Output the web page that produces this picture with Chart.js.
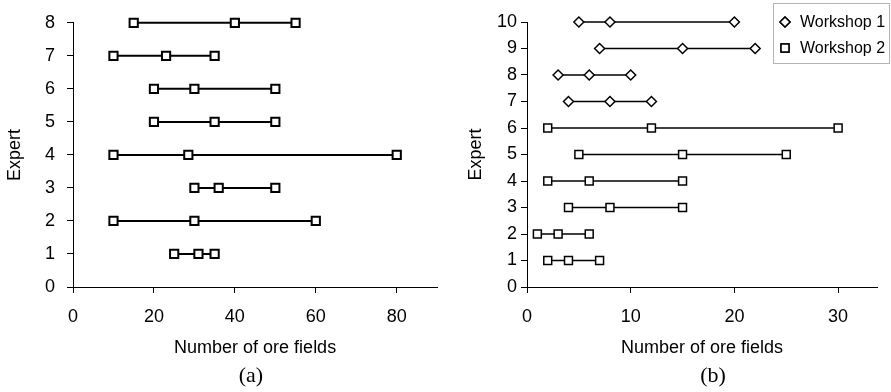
<!DOCTYPE html>
<html>
<head>
<meta charset="utf-8">
<script src="https://cdn.jsdelivr.net/npm/chart.js@4.4.1/dist/chart.umd.min.js"></script>
<style>
  body { margin: 0; background: #fff; width: 891px; height: 392px; position: relative; overflow: hidden; }
  #wrapA { position: absolute; left: 0; top: 0; width: 445px; height: 392px; }
  #wrapB { position: absolute; left: 445px; top: 0; width: 446px; height: 392px; }
  .cap { position: absolute; top: 364px; font: 22px "Liberation Serif", serif; line-height: 22px; color: #000; width: 60px; text-align: center; }
</style>
</head>
<body>
<div id="wrapA"><canvas id="chartA"></canvas></div>
<div id="wrapB"><canvas id="chartB"></canvas></div>
<div class="cap" style="left:221px">(a)</div>
<div class="cap" style="left:683px">(b)</div>
<script>
// (a) experts 1..8: min, most likely, max
const expertsA = [1, 2, 3, 4, 5, 6, 7, 8];
const minA  = [25, 10, 30, 10, 20, 20, 10, 15];
const midA  = [31, 30, 36, 28.5, 35, 30, 23, 40];
const maxA  = [35, 60, 50, 80, 50, 50, 35, 55];
const xTicksA = [0, 20, 40, 60, 80];

// (b) experts 1..10, workshop per expert
const expertsB  = [1, 2, 3, 4, 5, 6, 7, 8, 9, 10];
const workshopB = [2, 2, 2, 2, 2, 2, 1, 1, 1, 1];
const minB = [2, 1, 4, 2, 5, 2, 4, 3, 7, 5];
const midB = [4, 3, 8, 6, 15, 12, 8, 6, 15, 8];
const maxB = [7, 6, 15, 15, 25, 30, 12, 10, 22, 20];
const xTicksB = [0, 10, 20, 30];
const workshopLabels = ['Workshop 1', 'Workshop 2'];

const font = 'Liberation Sans, Arial, sans-serif';
Chart.defaults.font.family = font;
Chart.defaults.color = '#000';

function rows(experts, mins, mids, maxs, style) {
  return experts.map((e, i) => {
    const st = style(i);
    return {
      label: st.label,
      data: [{x: mins[i], y: e}, {x: mids[i], y: e}, {x: maxs[i], y: e}],
      showLine: true,
      clip: false,
      borderColor: '#000',
      borderWidth: st.lw,
      pointStyle: st.shape,
      pointRadius: st.r,
      pointBorderWidth: st.pw,
      pointBorderColor: '#000',
      pointBackgroundColor: '#fff'
    };
  });
}

function axes(xmax, xticks, ymax, yTitlePad, yWidth, yTickPad) {
  return {
    x: {
      type: 'linear', min: 0, max: xmax,
      afterBuildTicks: s => { s.ticks = xticks.map(v => ({ value: v })); },
      afterFit: s => { s.height = 72; },
      ticks: { padding: 13, font: { size: 18 }, maxRotation: 0 },
      grid: { drawOnChartArea: false, tickLength: 6, color: '#000' },
      border: { color: '#000', width: 1 },
      title: { display: true, text: 'Number of ore fields', font: { size: 18 }, padding: 0 }
    },
    y: {
      type: 'linear', min: 0, max: ymax,
      afterFit: s => { s.width = yWidth; },
      ticks: { stepSize: 1, padding: yTickPad, font: { size: 18 } },
      grid: { drawOnChartArea: false, tickLength: 6, color: '#000' },
      border: { color: '#000', width: 1 },
      title: { display: true, text: 'Expert', font: { size: 18 }, padding: { top: yTitlePad, bottom: 0 } }
    }
  };
}

new Chart(document.getElementById('chartA'), {
  type: 'scatter',
  data: {
    datasets: rows(expertsA, minA, midA, maxA, () => ({ label: 'Workshop 2', shape: 'rect', r: 5.8, pw: 2, lw: 2 }))
  },
  options: {
    responsive: true, maintainAspectRatio: false, animation: false,
    layout: { padding: { top: 22, bottom: 33, left: 0, right: 5 } },
    plugins: { legend: { display: false }, tooltip: { enabled: false } },
    scales: axes(90, xTicksA, 8, 4, 73, 12)
  }
});

// legend with border, drawn over the plot like the original
const boxLegend = {
  id: 'boxLegend',
  afterDraw(chart) {
    const ctx = chart.ctx;
    ctx.save();
    ctx.strokeStyle = '#b4b4b4';
    ctx.lineWidth = 1;
    ctx.fillStyle = '#fff';
    ctx.fillRect(328, 3, 117, 60);
    ctx.strokeRect(328.5, 3.5, 116, 60);
    const shapes = ['rectRot', 'rect'];
    const radii = [5, 5.6];
    workshopLabels.forEach((lab, i) => {
      const y = 22 + i * 26;
      ctx.strokeStyle = '#000';
      ctx.fillStyle = '#fff';
      ctx.lineWidth = 1.5;
      Chart.helpers.drawPoint(ctx, { pointStyle: shapes[i], radius: radii[i], borderWidth: 1.5 }, 340, y);
      ctx.fill();
      ctx.stroke();
      ctx.fillStyle = '#000';
      ctx.font = '16px ' + font;
      ctx.textBaseline = 'middle';
      ctx.fillText(lab, 355, y + 1);
    });
    ctx.restore();
  }
};

new Chart(document.getElementById('chartB'), {
  type: 'scatter',
  data: {
    datasets: rows(expertsB, minB, midB, maxB, i => workshopB[i] === 1
      ? { label: workshopLabels[0], shape: 'rectRot', r: 5, pw: 1.5, lw: 1.5 }
      : { label: workshopLabels[1], shape: 'rect', r: 5.6, pw: 1.5, lw: 1.5 })
  },
  options: {
    responsive: true, maintainAspectRatio: false, animation: false,
    layout: { padding: { top: 22, bottom: 33, left: 0, right: 14 } },
    plugins: { legend: { display: false }, tooltip: { enabled: false } },
    scales: axes(33.75, xTicksB, 10, 20, 82, 4)
  },
  plugins: [boxLegend]
});
</script>
</body>
</html>
